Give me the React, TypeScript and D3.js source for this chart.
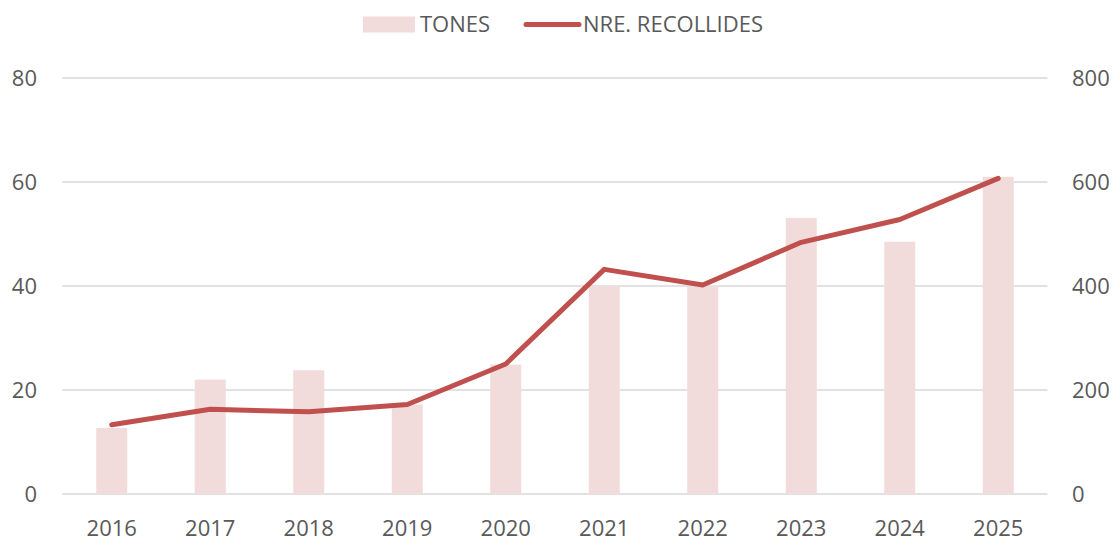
import * as d3 from "d3";
import { useEffect, useRef } from "react";

// values
const years = ["2016", "2017", "2018", "2019", "2020", "2021", "2022", "2023", "2024", "2025"];
const tones = [12.7, 22.0, 23.8, 17.2, 24.9, 40.0, 39.9, 53.1, 48.5, 61.0];
const recollides = [133, 163, 158, 172, 250, 432, 402, 484, 528, 607];
const leftTicks = [0, 20, 40, 60, 80];
const rightTicks = [0, 200, 400, 600, 800];

const barColor = "#F2DCDB";
const lineColor = "#C0504D";
const gridColor = "#D9D9D9";
const textColor = "#595959";
const font = "'Open Sans', 'Noto Sans', sans-serif";

export default function App() {
  const svgRef = useRef<SVGSVGElement>(null);
  const width = 1115;
  const height = 540;
  const plotLeft = 62.5;
  const plotRight = 1047.5;
  const plotTop = 78;
  const plotBottom = 494;

  const x = d3.scaleBand(years, [plotLeft, plotRight]).paddingInner(0.685).paddingOuter(0.3425);
  const yLeft = d3.scaleLinear([0, 80], [plotBottom, plotTop]);
  const yRight = d3.scaleLinear([0, 800], [plotBottom, plotTop]);

  useEffect(() => {
    const svg = d3.select(svgRef.current);
    svg.selectAll("*").remove();

    // gridlines
    svg.append("g")
      .selectAll("line")
      .data(leftTicks)
      .join("line")
      .attr("x1", plotLeft)
      .attr("x2", plotRight)
      .attr("y1", d => yLeft(d))
      .attr("y2", d => yLeft(d))
      .attr("stroke", gridColor)
      .attr("stroke-width", 1.3);

    // bars (TONES)
    svg.append("g")
      .selectAll("rect")
      .data(tones)
      .join("rect")
      .attr("x", (d, i) => x(years[i])!)
      .attr("width", x.bandwidth())
      .attr("y", d => yLeft(d))
      .attr("height", d => plotBottom - yLeft(d))
      .attr("fill", barColor);

    // line (NRE. RECOLLIDES)
    const line = d3.line<number>()
      .x((d, i) => x(years[i])! + x.bandwidth() / 2)
      .y(d => yRight(d));
    svg.append("path")
      .attr("d", line(recollides))
      .attr("fill", "none")
      .attr("stroke", lineColor)
      .attr("stroke-width", 5)
      .attr("stroke-linecap", "round")
      .attr("stroke-linejoin", "round");

    const txt = svg.append("g")
      .attr("font-family", font)
      .attr("font-size", 22)
      .attr("fill", textColor);

    txt.selectAll(".yl")
      .data(leftTicks)
      .join("text")
      .attr("x", 37)
      .attr("y", d => yLeft(d))
      .attr("dy", "0.35em")
      .attr("text-anchor", "end")
      .text(d => d);

    txt.selectAll(".yr")
      .data(rightTicks)
      .join("text")
      .attr("x", 1072)
      .attr("y", d => yRight(d))
      .attr("dy", "0.35em")
      .attr("text-anchor", "start")
      .text(d => d);

    txt.selectAll(".xl")
      .data(years)
      .join("text")
      .attr("x", d => x(d)! + x.bandwidth() / 2)
      .attr("y", 528)
      .attr("dy", "0.35em")
      .attr("text-anchor", "middle")
      .text(d => d);

    // legend
    const legend = svg.append("g");
    legend.append("rect")
      .attr("x", 363).attr("y", 16.5).attr("width", 52).attr("height", 16)
      .attr("fill", barColor);
    legend.append("text")
      .attr("x", 420).attr("y", 24.5).attr("dy", "0.35em")
      .attr("font-family", font).attr("font-size", 22).attr("fill", textColor)
      .text("TONES");
    legend.append("line")
      .attr("x1", 526).attr("x2", 579).attr("y1", 24.5).attr("y2", 24.5)
      .attr("stroke", lineColor).attr("stroke-width", 5).attr("stroke-linecap", "round");
    legend.append("text")
      .attr("x", 583).attr("y", 24.5).attr("dy", "0.35em")
      .attr("font-family", font).attr("font-size", 22).attr("fill", textColor)
      .text("NRE. RECOLLIDES");
  }, []);

  return (
    <svg ref={svgRef} width={width} height={height}
      style={{ position: "absolute", left: 0, top: 0, background: "white" }} />
  );
}
